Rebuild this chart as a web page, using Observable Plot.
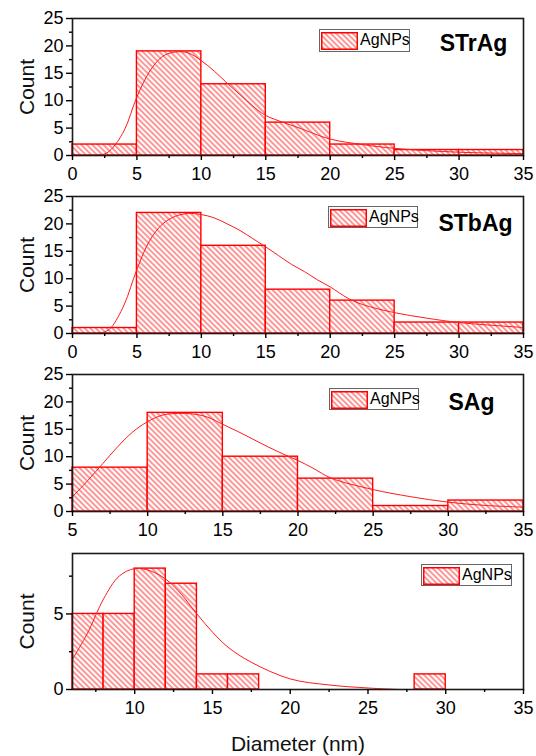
<!DOCTYPE html>
<html><head><meta charset="utf-8">
<script src="https://cdn.jsdelivr.net/npm/d3@7"></script>
<script src="https://cdn.jsdelivr.net/npm/@observablehq/plot@0.6"></script>
<style>
body{margin:0;background:#fff;font-family:"Liberation Sans",Arial,sans-serif;}
#wrap{position:relative;width:536px;height:756px;overflow:hidden;}
.panel{position:absolute;left:0;}
.legend{position:absolute;box-sizing:border-box;border:1.5px solid #666;background:#fff;font-size:16px;color:#000;white-space:nowrap;}
.legend svg{position:absolute;left:1px;top:1.5px;}
.legend span{position:absolute;left:40px;top:0px;line-height:20px;}
</style></head><body>
<svg width="0" height="0" style="position:absolute">
<defs><pattern id="hatch" patternUnits="userSpaceOnUse" width="3.9" height="3.9" patternTransform="rotate(-45)">
<rect width="3.9" height="3.9" fill="white"/>
<line x1="1.95" y1="-1" x2="1.95" y2="4.9" stroke="#ff1a1a" stroke-width="0.9"/>
</pattern></defs></svg>
<div id="wrap"></div>
<script>
// ---- data ----
const legendLabel = "AgNPs";
const sampleNames = ["STrAg", "STbAg", "SAg", ""];

// STrAg
const strag_x1 = [0, 5, 10, 15, 20, 25, 30];
const strag_x2 = [5, 10, 15, 20, 25, 30, 35];
const strag_count = [2, 19, 13, 6, 2, 1, 1];
const strag_fitX = [1.6, 2.5, 3, 4, 5, 6, 7, 8, 9, 10, 11, 12, 13, 14, 15, 16.4, 17.5, 20, 22.5, 25, 30, 35];
const strag_fitY = [0, 0.3, 1.1, 4.5, 10.7, 15.4, 18.1, 18.9, 18.7, 17.3, 15.4, 13.2, 11.1, 9.0, 7.3, 6.0, 5.1, 3.0, 2.0, 1.3, 0.6, 0.35];

// STbAg
const stbag_x1 = [0, 5, 10, 15, 20, 25, 30];
const stbag_x2 = [5, 10, 15, 20, 25, 30, 35];
const stbag_count = [1, 22, 16, 8, 6, 2, 2];
const stbag_fitX = [1.7, 2.5, 3, 4, 5, 6, 7, 8, 9, 10, 11, 12, 13, 14, 15, 16, 17, 18, 19, 20, 21.4, 22.5, 25, 27.5, 30, 35];
const stbag_fitY = [0, 0.3, 1.1, 5.2, 11.7, 17.0, 20.0, 21.4, 21.9, 21.7, 21.1, 20.0, 18.8, 17.3, 15.8, 14.2, 12.6, 11.3, 9.8, 8.5, 6.4, 5.3, 3.8, 2.8, 2.0, 1.1];

// SAg
const sag_x1 = [5, 10, 15, 20, 25, 30];
const sag_x2 = [10, 15, 20, 25, 30, 35];
const sag_count = [8, 18, 10, 6, 1, 2];
const sag_fitX = [5, 6, 7, 8, 9, 10, 11, 12, 13, 14, 15, 16, 17, 18, 19, 20, 21, 22.2, 25, 27.5, 30, 32.5, 35];
const sag_fitY = [2.7, 5.6, 8.7, 11.8, 14.5, 16.4, 17.6, 17.9, 17.8, 17.2, 15.9, 14.6, 13.2, 11.8, 10.5, 9.3, 7.9, 6.1, 4.0, 2.7, 1.7, 1.1, 0.8];

// fourth sample
const s4_x1 = [6, 8, 10, 12, 14, 16, 28];
const s4_x2 = [8, 10, 12, 14, 16, 18, 30];
const s4_count = [5, 5, 8, 7, 1, 1, 1];
const s4_fitX = [6, 7, 8, 9, 10, 11, 12, 13, 14, 15, 16, 17.5, 20, 22.5, 25, 27];
const s4_fitY = [2.0, 3.8, 6.0, 7.5, 8.0, 7.85, 7.3, 6.3, 5.0, 3.8, 2.8, 1.8, 0.7, 0.3, 0.1, 0];

// ticks
const xTicksA = [0, 5, 10, 15, 20, 25, 30, 35];
const xMinorA = [2.5, 7.5, 12.5, 17.5, 22.5, 27.5, 32.5];
const xTicksB = [5, 10, 15, 20, 25, 30, 35];
const xMinorB = [7.5, 12.5, 17.5, 22.5, 27.5, 32.5];
const xTicksC = [10, 15, 20, 25, 30, 35];
const xMinorC = [7.5, 12.5, 17.5, 22.5, 27.5, 32.5];
const yTicksA = [0, 5, 10, 15, 20, 25];
const yMinorA = [2.5, 7.5, 12.5, 17.5, 22.5];
const yTicksB = [0, 5];
const yMinorB = [2.5, 7.5];

const yLabel = "Count";
const xLabel = "Diameter (nm)";

// ---- build ----
const zip = (a, b, c) => a.map((v, i) => ({x1: v, x2: b[i], count: c[i]}));
const pts = (a, b) => a.map((v, i) => ({x: v, y: b[i]}));

const panels = [
  {top: 0, height: 180, mt: 18, mb: 25, xd: [0, 35], yd: [0, 25], bins: zip(strag_x1, strag_x2, strag_count), fit: pts(strag_fitX, strag_fitY), xt: xTicksA, xm: xMinorA, yt: yTicksA, ym: yMinorA, name: sampleNames[0], ndx: -50, ndy: 32, leg: [319, 29, 91, 23]},
  {top: 180, height: 178, mt: 16, mb: 25, xd: [0, 35], yd: [0, 25], bins: zip(stbag_x1, stbag_x2, stbag_count), fit: pts(stbag_fitX, stbag_fitY), xt: xTicksA, xm: xMinorA, yt: yTicksA, ym: yMinorA, name: sampleNames[1], ndx: -48, ndy: 34, leg: [328, 206, 90, 22]},
  {top: 358, height: 177, mt: 16, mb: 24, xd: [5, 35], yd: [0, 25], bins: zip(sag_x1, sag_x2, sag_count), fit: pts(sag_fitX, sag_fitY), xt: xTicksB, xm: xMinorB, yt: yTicksA, ym: yMinorA, name: sampleNames[2], ndx: -52, ndy: 35, leg: [329, 388, 90, 22]},
  {top: 535, height: 221, mt: 18, mb: 67, xd: [6, 35], yd: [0, 9], bins: zip(s4_x1, s4_x2, s4_count), fit: pts(s4_fitX, s4_fitY), xt: xTicksC, xm: xMinorC, yt: yTicksB, ym: yMinorB, name: sampleNames[3], ndx: 0, ndy: 0, leg: [421, 564, 91, 22], xlab: true}
];

const wrap = document.getElementById("wrap");
const FONT = "Liberation Sans, Arial, sans-serif";

for (const p of panels) {
  const marks = [
    Plot.rect(p.bins, {x1: "x1", x2: "x2", y1: 0, y2: "count", fill: "url(#hatch)", stroke: "#ff0000", strokeWidth: 1.4}),
    Plot.line(p.fit, {x: "x", y: "y", stroke: "#ff1a1a", strokeWidth: 1, curve: "catmull-rom"}),
    Plot.frame({stroke: "#1a1a1a", strokeWidth: 1.6}),
    Plot.axisX({ticks: p.xt, tickSize: 5, tickPadding: 7, label: null, strokeWidth: 1.4, fontSize: 18, tickFormat: d => String(d)}),
    Plot.axisX({ticks: p.xm, tickSize: 3, text: null, label: null, strokeWidth: 1.4}),
    Plot.axisY({ticks: p.yt, tickSize: 6, tickPadding: 3, label: null, strokeWidth: 1.4, fontSize: 18, tickFormat: d => String(d)}),
    Plot.axisY({ticks: p.ym, tickSize: 3, text: null, label: null, strokeWidth: 1.4}),
    Plot.text([yLabel], {text: d => d, frameAnchor: "left", textAnchor: "middle", rotate: -90, dx: -39, lineAnchor: "bottom", fontSize: 21, fill: "#111"})
  ];
  if (p.name) marks.push(Plot.text([p.name], {text: d => d, frameAnchor: "top-right", dx: p.ndx, dy: p.ndy, lineAnchor: "bottom", textAnchor: "middle", fontSize: 23, fontWeight: "bold", fill: "#000"}));
  if (p.xlab) marks.push(Plot.text([xLabel], {text: d => d, frameAnchor: "bottom", textAnchor: "middle", dy: 61, lineAnchor: "bottom", fontSize: 21, fill: "#111"}));
  const chart = Plot.plot({
    width: 536, height: p.height,
    marginLeft: 72, marginRight: 13, marginTop: p.mt, marginBottom: p.mb,
    style: {fontFamily: FONT, fontSize: "18px", color: "#000", background: "transparent", overflow: "visible"},
    x: {domain: p.xd},
    y: {domain: p.yd},
    marks
  });
  const div = document.createElement("div");
  div.className = "panel";
  div.style.top = p.top + "px";
  div.appendChild(chart);
  wrap.appendChild(div);

  const [lx, ly, lw, lh] = p.leg;
  const leg = document.createElement("div");
  leg.className = "legend";
  leg.style.left = lx + "px"; leg.style.top = ly + "px";
  leg.style.width = lw + "px"; leg.style.height = lh + "px";
  leg.innerHTML = `<svg width="37" height="18"><rect x="0.75" y="0.75" width="35.5" height="16.5" fill="url(#hatch)" stroke="#ff0000" stroke-width="1.5"/></svg><span>${legendLabel}</span>`;
  wrap.appendChild(leg);
}
</script>
</body></html>
